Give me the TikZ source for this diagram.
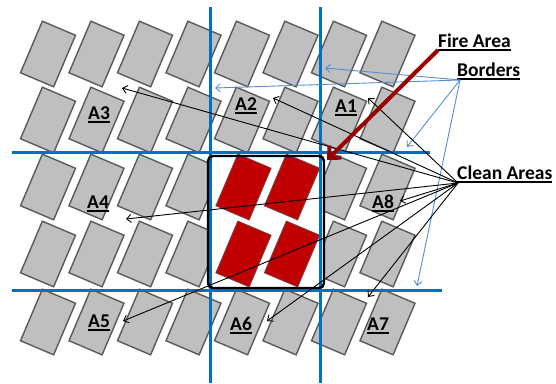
\documentclass[tikz,border=0pt]{standalone}
\usepackage{fontspec}
\setmainfont{Carlito}
\usetikzlibrary{arrows.meta}
\definecolor{tilegray}{RGB}{191,191,191}
\definecolor{tileedge}{RGB}{90,90,90}
\definecolor{firered}{RGB}{192,0,0}
\definecolor{arrowred}{RGB}{155,0,0}
\definecolor{borderblue}{RGB}{0,112,192}
\definecolor{lightblue}{RGB}{85,142,213}
\newcommand\ulx[1]{\setbox0=\hbox{#1}\rlap{\rule[-3.6pt]{\wd0}{1.4pt}}\box0}
\newcommand\tileat[3]{\draw[#3,shift={(#1,#2)},rotate=-23] (-18,-28) -- (18,-28) -- (18,28) -- (-18,28) -- cycle;}
\begin{document}
\begin{tikzpicture}[x=1pt,y=-1pt,
  graytile/.style={fill=tilegray,draw=tileedge,line width=1.4pt},
  firetile/.style={fill=firered,draw=tileedge!60!firered,line width=1pt},
  blueline/.style={draw=borderblue,line width=3pt},
  boxline/.style={draw=black,line width=2.4pt,rounded corners=5pt},
  lbl/.style={font=\fontsize{19.5}{22}\bfseries\selectfont,inner sep=0pt,anchor=base west},
  cleanarrow/.style={draw=black,line width=0.9pt,-{Straight Barb[length=4.5pt,width=8pt]}},
  bordarrow/.style={draw=lightblue,line width=0.9pt,-{Straight Barb[length=4.5pt,width=8pt]}},
  firearrow/.style={draw=arrowred,line width=4pt,-{Straight Barb[length=9pt,width=17pt]}}]
\useasboundingbox (0,0) rectangle (556,383);
% gray tiles
\foreach \x in {48,96.5,145,193.5,242,290.5,339,387.5}
  \foreach \y in {54,120,322} {\tileat{\x}{\y}{graytile}}
\foreach \x in {48,96.5,145,193.5,339,387.5}
  \foreach \y in {187,254} {\tileat{\x}{\y}{graytile}}
% fire area box
\fill[white,rounded corners=5pt] (208,156) rectangle (324,288);
\foreach \x in {243.5,292}
  \foreach \y in {187,254} {\tileat{\x}{\y}{firetile}}
% borders
\draw[blueline] (210,7) -- (210,383);
\draw[blueline] (320,7) -- (320,383);
\draw[blueline] (12,152) -- (430,152);
\draw[blueline] (12,290) -- (442,290);
\draw[boxline] (208,156) rectangle (324,288);
% labels
\node[lbl] (a1) at (335,112) {\ulx{A1}};
\node[lbl] (a2) at (235,110) {\ulx{A2}};
\node[lbl] (a3) at (88,119) {\ulx{A3}};
\node[lbl] (a4) at (87,208) {\ulx{A4}};
\node[lbl] (a5) at (88,327) {\ulx{A5}};
\node[lbl] (a6) at (230,330) {\ulx{A6}};
\node[lbl] (a7) at (367,330) {\ulx{A7}};
\node[lbl] (a8) at (372,208) {\ulx{A8}};
\node[lbl] (fire) at (438,47) {\ulx{Fire Area}};
\node[lbl] (borders) at (457,76) {\ulx{Borders}};
\node[lbl] (clean) at (457,179) {\ulx{Clean Areas}};
% arrow ends
\coordinate (fireS) at (438,50);
\coordinate (fireT) at (327,160);
\coordinate (bordS) at (460,80);
\coordinate (bT1) at (325,68);
\coordinate (bT2) at (215,88);
\coordinate (bT3) at (407,147);
\coordinate (bT4) at (417,286);
\coordinate (cleanS) at (458,183);
\coordinate (tA1) at (368,98);
\coordinate (tA2) at (273,98);
\coordinate (tA3) at (122,88);
\coordinate (tA4) at (126,219);
\coordinate (tA5) at (123,321);
\coordinate (tA6) at (267,321);
\coordinate (tA7) at (368,297);
\coordinate (tA8) at (400,201);
% arrows
\foreach \t in {bT1,bT2,bT3,bT4} \draw[bordarrow] (bordS) -- (\t);
\foreach \t in {tA1,tA2,tA3,tA4,tA5,tA6,tA7,tA8} \draw[cleanarrow] (cleanS) -- (\t);
\draw[firearrow] (fireS) -- (fireT);
\end{tikzpicture}
\end{document}
